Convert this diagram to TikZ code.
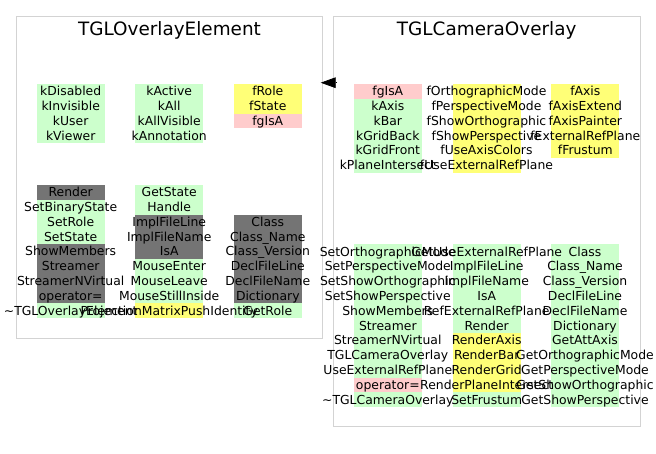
\documentclass[tikz,border=0pt]{standalone}
\usepackage{fontspec}
\setmainfont{DejaVu Sans}
\newfontfamily\cellfont{DejaVu Sans}
\usetikzlibrary{arrows.meta}
\definecolor{cg}{HTML}{CCFFCC}
\definecolor{cy}{HTML}{FFFF77}
\definecolor{cp}{HTML}{FFCCCC}
\definecolor{cd}{HTML}{747474}
\definecolor{boxgray}{HTML}{D3D3D3}
\pgfdeclarelayer{cellbg}
\pgfsetlayers{cellbg,main}
\newcommand\mkcol[4]{%
  \foreach \c/\t [count=\i] in {#4} {
    \node[cell] (#1-\i) at ({#2},{#3+(\i-1)*14.8+7.4}) {\makebox[68pt]{\t}};
    \begin{pgfonlayer}{cellbg}
      \fill[\c] (#1-\i.south west) rectangle (#1-\i.north east);
    \end{pgfonlayer}
  }}
\begin{document}
\begin{tikzpicture}[x=1pt,y=-1pt,
  cell/.style={inner sep=0pt, outer sep=0pt, minimum width=68pt, text height=11.7pt, text depth=3.1pt,
    font=\cellfont\fontsize{12.4}{14.8}\selectfont},
  cluster/.style={draw=boxgray, line width=1.3pt, inner sep=0pt, anchor=north west},
  ctitle/.style={font=\fontsize{18.4}{22}\selectfont, inner sep=0pt}]
\useasboundingbox (0,0) rectangle (656,453);
% clusters
\node[cluster, minimum width=306pt, minimum height=322pt] (leftbox) at (16,16) {};
\node[cluster, minimum width=307pt, minimum height=410pt] (rightbox) at (333,16) {};
\node[ctitle] (lefttitle) at (169.5,30) {TGLOverlayElement};
\node[ctitle] (righttitle) at (486.7,30) {TGLCameraOverlay};
% left cluster
\mkcol{la}{70.7}{84}{cg/kDisabled, cg/kInvisible, cg/kUser, cg/kViewer}
\mkcol{lb}{169.2}{84}{cg/kActive, cg/kAll, cg/kAllVisible, cg/kAnnotation}
\mkcol{lc}{267.8}{84}{cy/fRole, cy/fState, cp/fgIsA}
\mkcol{ld}{70.7}{185}{cd/Render, cg/SetBinaryState, cg/SetRole, cg/SetState, cd/ShowMembers, cd/Streamer, cd/StreamerNVirtual, cd/operator=, cg/\textasciitilde TGLOverlayElement}
\mkcol{le}{169.2}{185}{cg/GetState, cg/Handle, cd/ImplFileLine, cd/ImplFileName, cd/IsA, cg/MouseEnter, cg/MouseLeave, cg/MouseStillInside, cy/ProjectionMatrixPushIdentity}
\mkcol{lf}{267.8}{214.6}{cd/Class, cd/Class\_Name, cd/Class\_Version, cd/DeclFileLine, cd/DeclFileName, cd/Dictionary, cg/GetRole}
% right cluster
\mkcol{ra}{387.8}{84}{cp/fgIsA, cg/kAxis, cg/kBar, cg/kGridBack, cg/kGridFront, cg/kPlaneIntersect}
\mkcol{rb}{486.5}{84}{cy/fOrthographicMode, cy/fPerspectiveMode, cy/fShowOrthographic, cy/fShowPerspective, cy/fUseAxisColors, cy/fUseExternalRefPlane}
\mkcol{rc}{585.3}{84}{cy/fAxis, cy/fAxisExtend, cy/fAxisPainter, cy/fExternalRefPlane, cy/fFrustum}
\mkcol{rd}{387.8}{244.3}{cg/SetOrthographicMode, cg/SetPerspectiveMode, cg/SetShowOrthographic, cg/SetShowPerspective, cg/ShowMembers, cg/Streamer, cg/StreamerNVirtual, cg/TGLCameraOverlay, cg/UseExternalRefPlane, cp/operator=, cg/\textasciitilde TGLCameraOverlay}
\mkcol{re}{486.7}{244.3}{cg/GetUseExternalRefPlane, cg/ImplFileLine, cg/ImplFileName, cg/IsA, cg/RefExternalRefPlane, cg/Render, cy/RenderAxis, cy/RenderBar, cy/RenderGrid, cy/RenderPlaneIntersect, cg/SetFrustum}
\mkcol{rf}{585}{244.3}{cg/Class, cg/Class\_Name, cg/Class\_Version, cg/DeclFileLine, cg/DeclFileName, cg/Dictionary, cg/GetAttAxis, cg/GetOrthographicMode, cg/GetPerspectiveMode, cg/GetShowOrthographic, cg/GetShowPerspective}
% inheritance arrow
\coordinate (arrS) at (336.7,82.7);
\coordinate (arrE) at (320.7,82.7);
\draw[line width=0.8pt, -{Triangle[length=15pt,width=10.7pt]}] (arrS) -- (arrE);
\end{tikzpicture}
\end{document}
